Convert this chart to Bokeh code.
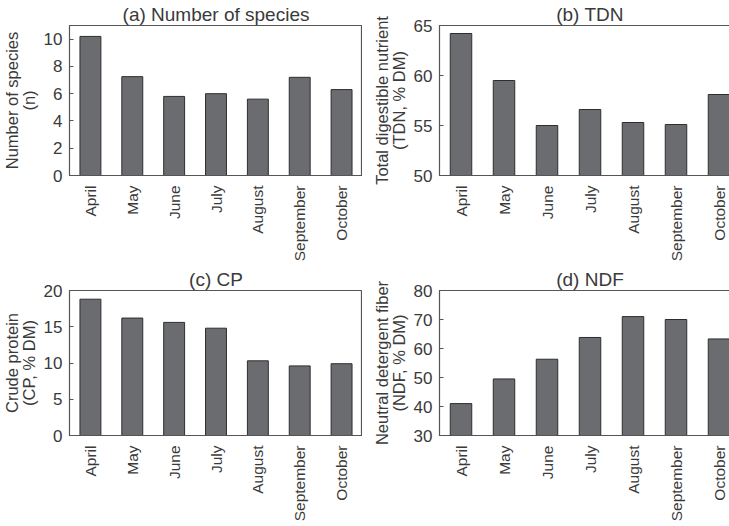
import math
from bokeh.plotting import figure
from bokeh.layouts import column, row
from bokeh.models import Range1d, SingleIntervalTicker
from bokeh.embed import file_html
from bokeh.resources import INLINE

months = ["April", "May", "June", "July", "August", "September", "October"]
species = [10.2, 7.25, 5.8, 6.0, 5.6, 7.2, 6.3]
tdn = [64.2, 59.5, 55.0, 56.6, 55.3, 55.1, 58.1]
cp = [18.8, 16.2, 15.6, 14.8, 10.3, 9.6, 9.9]
ndf = [41.0, 49.5, 56.3, 63.8, 71.0, 70.0, 63.3]

FONT = "Liberation Sans"
TXT = "#3a3a3a"
AX = "#555555"


def panel(title, ylabel, vals, y0, y1, step, width, height, bl, br, bt, bb, toff):
    p = figure(x_range=months, y_range=Range1d(y0, y1), width=width, height=height,
               output_backend="svg", toolbar_location=None,
               min_border_left=bl, min_border_right=br, min_border_top=bt, min_border_bottom=bb)
    p.vbar(x=months, top=vals, bottom=y0, width=0.5, fill_color="#6b6c6f",
           line_color="#2e2e2e", line_width=1)
    p.title.text = title
    p.title.align = "center"
    p.title.text_font = FONT
    p.title.text_font_size = "19px"
    p.title.text_font_style = "normal"
    p.title.text_color = TXT
    p.title.offset = toff
    p.title.standoff = 1
    p.x_range.range_padding = 0
    p.grid.visible = False
    p.outline_line_color = AX
    p.outline_line_width = 1.2
    p.background_fill_color = "white"
    p.border_fill_color = "white"

    p.yaxis.ticker = SingleIntervalTicker(interval=step)
    p.yaxis.axis_label = ylabel
    p.yaxis.axis_label_text_font = FONT
    p.yaxis.axis_label_text_font_size = "16.5px"
    p.yaxis.axis_label_text_font_style = "normal"
    p.yaxis.axis_label_text_color = TXT
    p.yaxis.axis_label_text_line_height = 0.9
    p.yaxis.axis_label_standoff = 3
    p.yaxis.major_label_text_font = FONT
    p.yaxis.major_label_text_font_size = "17px"
    p.yaxis.major_label_text_color = TXT
    p.yaxis.major_tick_in = 4
    p.yaxis.major_tick_out = 0
    p.yaxis.minor_tick_line_color = None
    p.yaxis.major_label_standoff = 3
    p.yaxis.axis_line_color = AX
    p.yaxis.major_tick_line_color = AX

    p.xaxis.major_label_orientation = math.pi / 2
    p.xaxis.major_label_text_font = FONT
    p.xaxis.major_label_text_font_size = "15.5px"
    p.xaxis.major_label_text_color = TXT
    p.xaxis.major_tick_line_color = None
    p.xaxis.minor_tick_line_color = None
    p.xaxis.major_label_standoff = 4
    p.xaxis.axis_line_color = AX
    p.xaxis.axis_line_width = 1.2
    return p


pa = panel("(a) Number of species", "Number of species\n(n)", species, 0, 11, 2,
           362, 266, 58, 0, 23, 90, 8)
pb = panel("(b) TDN", "Total digestible nutrient\n(TDN, % DM)", tdn, 50, 65, 5,
           380, 266, 77, 2, 25, 91, -6)
pc = panel("(c) CP", "Crude protein\n(CP, % DM)", cp, 0, 20, 5,
           362, 258, 58, 0, 23, 78, -11)
pd = panel("(d) NDF", "Neutral detergent fiber\n(NDF, % DM)", ndf, 30, 80, 10,
           380, 258, 77, 2, 23, 78, -9)

layout = column(row(pa, pb), row(pc, pd))
open("out.html", "w").write(file_html(layout, INLINE))
